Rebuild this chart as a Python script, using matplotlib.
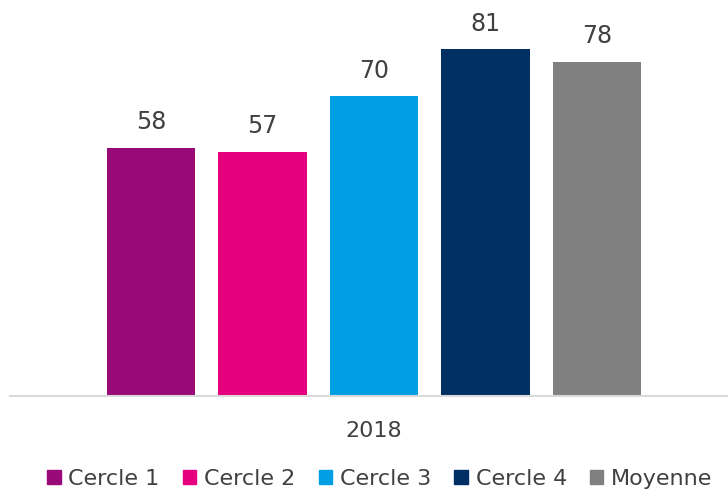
import matplotlib.pyplot as plt
from matplotlib.patches import Patch

categories = ["Cercle 1", "Cercle 2", "Cercle 3", "Cercle 4", "Moyenne"]
values = [58, 57, 70, 81, 78]
colours = ["#990A78", "#E5007D", "#009FE3", "#003063", "#808080"]
year = "2018"

plt.rcParams['font.family'] = ['DejaVu Sans']
text_col = "#404040"

fig = plt.figure(figsize=(7.28, 4.94), dpi=100)
ax = fig.add_axes([10 / 728, 1 - 396 / 494, 1 - 10 / 728, 396 / 494])

x = list(range(len(values)))
bars = ax.bar(x, values, width=0.79, color=colours)
for xi, v in zip(x, values):
    ax.text(xi, v + 3.2, str(v), ha="center", va="bottom", fontsize=17, color=text_col)

ax.set_xlim(-1.265, 5.175)
ax.set_ylim(0, 92.5)
ax.set_yticks([])
ax.set_xticks([2])
ax.set_xticklabels([year], fontsize=16, color=text_col)
ax.tick_params(axis="x", length=0, pad=18)
for s in ["top", "right", "left"]:
    ax.spines[s].set_visible(False)
ax.spines["bottom"].set_color("#D9D9D9")
ax.spines["bottom"].set_linewidth(1.5)

handles = [Patch(color=c, label=l) for c, l in zip(colours, categories)]
fig.legend(handles=handles, loc="center", bbox_to_anchor=(380 / 728, 1 - 479 / 494),
           ncol=5, frameon=False, fontsize=16, handlelength=0.6, handleheight=0.6,
           handletextpad=0.35, columnspacing=1.05, labelcolor=text_col)

fig.savefig("out.png", dpi=100)
